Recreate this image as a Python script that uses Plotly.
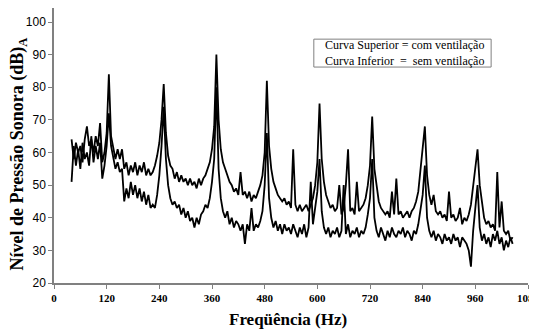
import plotly.graph_objects as go

# Sample frequencies (Hz)
FREQ_HZ = [
    40, 45, 50, 55, 60, 65, 70, 75, 80, 85,
    90, 95, 100, 105, 110, 115, 120, 125, 130, 135,
    140, 145, 150, 155, 160, 165, 170, 175, 180, 185,
    190, 195, 200, 205, 210, 215, 220, 225, 230, 235,
    240, 245, 250, 255, 260, 265, 270, 275, 280, 285,
    290, 295, 300, 305, 310, 315, 320, 325, 330, 335,
    340, 345, 350, 355, 360, 365, 370, 375, 380, 385,
    390, 395, 400, 405, 410, 415, 420, 425, 430, 435,
    440, 445, 450, 455, 460, 465, 470, 475, 480, 485,
    490, 495, 500, 505, 510, 515, 520, 525, 530, 535,
    540, 545, 550, 555, 560, 565, 570, 575, 580, 585,
    590, 595, 600, 605, 610, 615, 620, 625, 630, 635,
    640, 645, 650, 655, 660, 665, 670, 675, 680, 685,
    690, 695, 700, 705, 710, 715, 720, 725, 730, 735,
    740, 745, 750, 755, 760, 765, 770, 775, 780, 785,
    790, 795, 800, 805, 810, 815, 820, 825, 830, 835,
    840, 845, 850, 855, 860, 865, 870, 875, 880, 885,
    890, 895, 900, 905, 910, 915, 920, 925, 930, 935,
    940, 945, 950, 955, 960, 965, 970, 975, 980, 985,
    990, 995, 1000, 1005, 1010, 1015, 1020, 1025, 1030, 1035,
    1040, 1045,
]

# Curva Superior = com ventilação (dB A)
UPPER_DB = [
    64, 58, 63, 60, 62, 57, 64, 68, 62, 64,
    60, 65, 62, 69, 57, 60, 66, 84, 65, 61,
    58, 61, 58, 61, 55, 57, 53, 56, 54, 57,
    53, 56, 54, 57, 53, 55, 53, 54, 56, 59,
    63, 70, 81, 66, 59, 56, 55, 52, 54, 51,
    53, 51, 52, 50, 52, 50, 51, 49, 52, 50,
    52, 53, 55, 57, 61, 68, 90, 70, 61, 57,
    55, 53, 51, 50, 48, 49, 47, 54, 47, 48,
    46, 48, 45, 47, 46, 48, 50, 53, 60, 82,
    62, 55, 51, 49, 47, 46, 45, 46, 44, 45,
    43, 61, 44, 42, 44, 42, 43, 44, 42, 44,
    46, 50, 57, 75, 58, 51, 47, 45, 43, 44,
    42, 43, 50, 41, 43, 50, 61, 42, 43, 41,
    51, 42, 43, 44, 46, 50, 56, 71, 55, 49,
    45, 43, 42, 41, 42, 40, 48, 41, 52, 41,
    42, 40, 41, 42, 40, 42, 43, 45, 48, 55,
    60, 68, 53, 47, 44, 47, 42, 41, 42, 40,
    41, 39, 48, 40, 41, 39, 40, 43, 38, 40,
    39, 41, 44, 50, 55, 61, 50, 44, 40, 38,
    39, 37, 38, 36, 54, 37, 45, 36, 35, 36,
    33, 34,
]

# Curva Inferior = sem ventilação (dB A)
LOWER_DB = [
    51, 62, 56, 61, 55, 63, 58, 60, 56, 65,
    57, 62, 58, 63, 52, 56, 62, 72, 62, 58,
    55, 57, 54, 55, 45, 49, 46, 51, 47, 50,
    46, 49, 45, 48, 44, 47, 43, 44, 43, 47,
    53, 62, 74, 58, 50, 46, 44, 45, 43, 44,
    41, 43, 40, 42, 39, 40, 37, 40, 38, 41,
    42, 44, 43, 46, 51, 58, 80, 55, 46, 42,
    40, 42, 38, 40, 37, 39, 38, 36, 38, 32,
    38, 36, 43, 36, 38, 37, 39, 42, 50, 66,
    46, 40, 37, 39, 36, 38, 35, 38, 36, 37,
    35, 38, 36, 34, 37, 35, 38, 34, 37, 51,
    38, 44, 48, 58, 42, 37, 35, 37, 34, 36,
    35, 37, 34, 36, 50, 35, 38, 34, 36, 35,
    37, 34, 36, 35, 37, 41, 46, 58, 40, 36,
    34, 37, 35, 33, 36, 34, 37, 35, 34, 36,
    35, 37, 34, 36, 35, 33, 36, 35, 38, 42,
    47, 56, 40, 36, 34, 36, 33, 35, 34, 32,
    35, 33, 34, 32, 35, 33, 34, 31, 34, 33,
    32, 30, 25, 36, 42, 50, 37, 33, 35, 32,
    34, 31, 35, 33, 36, 32, 34, 30, 33, 31,
    34, 32,
]

X_TICKS = [0, 120, 240, 360, 480, 600, 720, 840, 960, 1080]
Y_TICKS = [20, 30, 40, 50, 60, 70, 80, 90, 100]

assert len(FREQ_HZ) == len(UPPER_DB) == len(LOWER_DB)

SERIF = "Liberation Serif, Times New Roman, serif"
SANS = "Liberation Sans, Arial, sans-serif"

fig = go.Figure()
fig.add_trace(go.Scatter(x=FREQ_HZ, y=LOWER_DB, mode="lines",
                         line=dict(color="#000000", width=1.8),
                         name="Curva Inferior", showlegend=False))
fig.add_trace(go.Scatter(x=FREQ_HZ, y=UPPER_DB, mode="lines",
                         line=dict(color="#000000", width=1.8),
                         name="Curva Superior", showlegend=False))

# The page places the figure 8 px in from the top-left corner,
# so the figure is 8 px smaller and the margins are shifted accordingly.
fig.update_layout(
    width=529, height=324,
    margin=dict(l=46, r=9, t=0, b=49, pad=0),
    paper_bgcolor="white", plot_bgcolor="white",
    xaxis=dict(range=[0, 1080], tickvals=X_TICKS, ticktext=[str(v) for v in X_TICKS],
               automargin=False, ticklabeloverflow="allow",
               showline=True, linecolor="#808080", linewidth=1.5,
               ticks="outside", ticklen=4, tickcolor="#808080", tickwidth=1.2,
               showgrid=False, zeroline=False,
               tickfont=dict(family=SERIF, size=11, color="#000000", weight="bold")),
    yaxis=dict(range=[20, 104.3], tickvals=Y_TICKS, automargin=False,
               showline=True, linecolor="#808080", linewidth=1.5,
               ticks="outside", ticklen=4, tickcolor="#808080", tickwidth=1.2,
               showgrid=False, zeroline=False,
               tickfont=dict(family=SANS, size=12, color="#000000")),
    annotations=[
        dict(text="<b>Nível de Pressão Sonora (dB)<sub>A</sub></b>",
             xref="paper", yref="paper", x=-0.075, y=0.469,
             xanchor="center", yanchor="middle", textangle=-90, showarrow=False,
             font=dict(family=SERIF, size=18, color="#000000")),
        dict(text="<b>Freqüência (Hz)</b>",
             xref="paper", yref="paper", x=0.494, y=-0.1345,
             xanchor="center", yanchor="middle", showarrow=False,
             font=dict(family=SERIF, size=17, color="#000000")),
        dict(text="Curva Superior = com ventilação<br>Curva Inferior  =  sem ventilação",
             xref="x", yref="y", x=613, y=90.4,
             xanchor="left", yanchor="middle", align="left", showarrow=False,
             font=dict(family=SERIF, size=12, color="#000000")),
    ],
    shapes=[
        dict(type="rect", xref="x", yref="y", x0=592, x1=996, y0=86.2, y1=94.75,
             line=dict(color="#808080", width=1), fillcolor="rgba(0,0,0,0)"),
    ],
)

fig.write_html("out.html")
